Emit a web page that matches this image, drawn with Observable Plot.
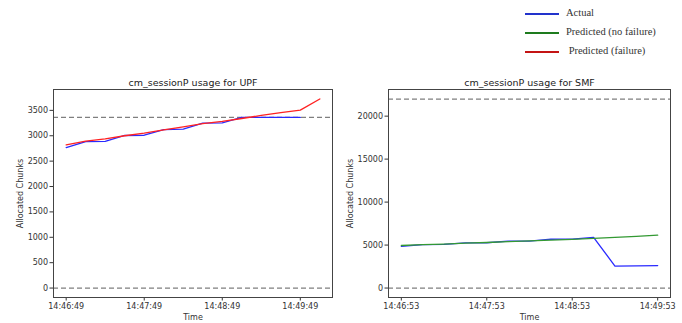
<!DOCTYPE html>
<html>
<head>
<meta charset="utf-8">
<script src="https://cdn.jsdelivr.net/npm/d3@7"></script>
<script src="https://cdn.jsdelivr.net/npm/@observablehq/plot@0.6"></script>
<style>
  html, body { margin: 0; padding: 0; background: #fff; }
  #root { position: relative; width: 682px; height: 323px; overflow: hidden; background: #fff; }
  .panel { position: absolute; top: 60px; }
  .legend { position: absolute; left: 0; top: 0; font-family: "Liberation Serif", serif; font-size: 10.5px; color: #333; }
  .legend .row { position: absolute; white-space: pre; }
  .legend .sw { position: absolute; width: 34px; height: 2px; }
</style>
</head>
<body>
<div id="root"></div>
<script>
// ---- data ----
const legendLabels = ["Actual", "Predicted (no failure)", " Predicted (failure)"];
const legendColors = ["#2233cc", "#1e7b1e", "#c41414"];

// UPF panel (seconds after 14:46:49)
const upfTitle = "cm_sessionP usage for UPF";
const upfTickSecs = [0, 60, 120, 180];
const upfTickLabels = ["14:46:49", "14:47:49", "14:48:49", "14:49:49"];
const upfYTicks = [0, 500, 1000, 1500, 2000, 2500, 3000, 3500];
const upfThresholds = [0, 3360];
const upfActualT = [0, 15, 30, 45, 60, 75, 90, 105, 120, 135, 150, 165, 180];
const upfActual = [2765, 2885, 2890, 3005, 3010, 3120, 3130, 3250, 3255, 3360, 3360, 3360, 3360];
const upfFailT = [0, 15, 30, 45, 60, 75, 90, 105, 120, 135, 150, 165, 180, 195];
const upfFail = [2820, 2895, 2940, 3000, 3050, 3115, 3175, 3240, 3285, 3340, 3400, 3455, 3505, 3725];

// SMF panel (seconds after 14:46:53)
const smfTitle = "cm_sessionP usage for SMF";
const smfTickSecs = [0, 60, 120, 180];
const smfTickLabels = ["14:46:53", "14:47:53", "14:48:53", "14:49:53"];
const smfYTicks = [0, 5000, 10000, 15000, 20000];
const smfThresholds = [0, 21990];
const smfActualT = [0, 15, 30, 45, 60, 75, 90, 105, 120, 135, 150, 165, 180];
const smfActual = [4860, 5050, 5080, 5250, 5270, 5450, 5470, 5680, 5700, 5900, 2560, 2580, 2610];
const smfNoFailT = [0, 15, 30, 45, 60, 75, 90, 105, 120, 135, 150, 165, 180];
const smfNoFail = [4950, 5050, 5120, 5220, 5300, 5400, 5480, 5570, 5660, 5780, 5900, 6020, 6150];

// ---- rendering ----
const root = document.getElementById("root");

// legend
const legend = document.createElement("div");
legend.className = "legend";
const rowY = [14, 32.5, 51.5];
legendLabels.forEach((lab, i) => {
  const sw = document.createElement("div");
  sw.className = "sw";
  sw.style.left = "525px";
  sw.style.top = (rowY[i] - 1) + "px";
  sw.style.background = legendColors[i];
  legend.appendChild(sw);
  const t = document.createElement("div");
  t.className = "row";
  t.textContent = lab;
  t.style.left = "566px";
  t.style.top = (rowY[i] - 7) + "px";
  legend.appendChild(t);
});
root.appendChild(legend);

function panel({left, width, marginLeft, marginRight, xDomain, yDomain, tickSecs, tickLabels, yTicks, thresholds, series, title, yLabelDx}) {
  const marks = [
    Plot.ruleY(thresholds, {stroke: "#7f7f7f", strokeWidth: 1.2, strokeDasharray: "5,3"}),
    ...series.map(s => Plot.line(s.t.map((t, i) => ({t, v: s.v[i]})), {x: "t", y: "v", stroke: s.color, strokeWidth: 1.3})),
    Plot.frame({stroke: "#444", strokeWidth: 1}),
    Plot.text([title], {frameAnchor: "top", dy: -7, lineAnchor: "middle", fontSize: 9.5, fill: "#222"}),
    Plot.text(["Allocated Chunks"], {frameAnchor: "left", dx: yLabelDx, rotate: -90, lineAnchor: "middle", textAnchor: "middle", fontSize: 8, fill: "#333"}),
    Plot.text(["Time"], {frameAnchor: "bottom", dy: 20, lineAnchor: "middle", fontSize: 8, fill: "#333"})
  ];
  const svg = Plot.plot({
    width, height: 263,
    marginLeft, marginRight, marginTop: 29, marginBottom: 26,
    style: {fontFamily: "DejaVu Sans", fontSize: "8px", color: "#333", background: "white", overflow: "visible"},
    x: {domain: xDomain, ticks: tickSecs, tickFormat: (d) => tickLabels[tickSecs.indexOf(d)], label: null, tickSize: 3.5, tickPadding: 2},
    y: {domain: yDomain, ticks: yTicks, tickFormat: d => String(d), label: null, tickSize: 3.5, tickPadding: 2},
    marks
  });
  const wrap = document.createElement("div");
  wrap.className = "panel";
  wrap.style.left = left + "px";
  wrap.appendChild(svg);
  root.appendChild(wrap);
}

panel({
  left: 0, width: 340, marginLeft: 53, marginRight: 8,
  xDomain: [-9.75, 204.75], yDomain: [-186, 3911],
  tickSecs: upfTickSecs, tickLabels: upfTickLabels, yTicks: upfYTicks,
  thresholds: upfThresholds, title: upfTitle, yLabelDx: -33,
  series: [
    {t: upfActualT, v: upfActual, color: "#2a2aff"},
    {t: upfFailT, v: upfFail, color: "#ff2222"}
  ]
});

panel({
  left: 340, width: 342, marginLeft: 48, marginRight: 12,
  xDomain: [-9, 189], yDomain: [-1100, 23100],
  tickSecs: smfTickSecs, tickLabels: smfTickLabels, yTicks: smfYTicks,
  thresholds: smfThresholds, title: smfTitle, yLabelDx: -38,
  series: [
    {t: smfActualT, v: smfActual, color: "#2a2aff"},
    {t: smfNoFailT, v: smfNoFail, color: "#339933"}
  ]
});
</script>
</body>
</html>
